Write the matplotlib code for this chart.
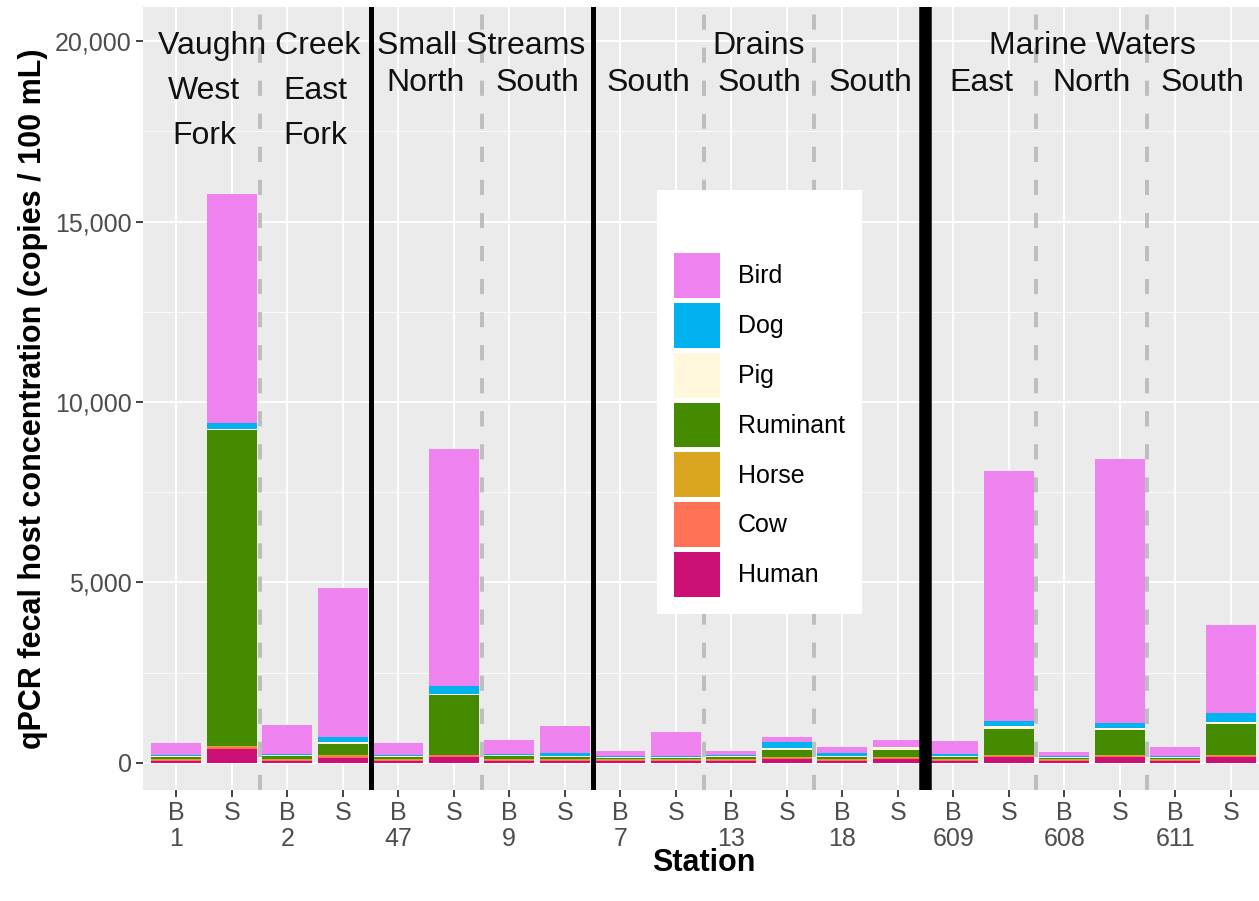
from matplotlib import pyplot as plt
from matplotlib.ticker import FuncFormatter, MultipleLocator
import numpy as np

plt.rcParams['font.family'] = ['Liberation Sans', 'DejaVu Sans']

# stations (B = base flow, S = storm)
stations = ['1', '2', '47', '9', '7', '13', '18', '609', '608', '611']
conditions = ['B', 'S']

# host marker concentrations, one value per bar (B1, S1, B2, S2, ...)
human    = [40, 380, 40, 150, 40, 160, 40, 40, 40, 40, 40, 100, 40, 110, 40, 160, 40, 160, 40, 160]
cow      = [30, 60, 40, 40, 30, 50, 30, 30, 30, 30, 30, 30, 30, 30, 30, 30, 30, 30, 30, 30]
horse    = [40, 40, 40, 30, 40, 20, 40, 40, 30, 30, 30, 30, 30, 30, 40, 30, 30, 30, 30, 30]
ruminant = [60, 8750, 60, 310, 60, 1640, 70, 60, 40, 40, 60, 190, 60, 200, 60, 725, 40, 680, 50, 860]
pig      = [20, 30, 30, 60, 20, 40, 30, 30, 30, 30, 30, 50, 40, 60, 30, 65, 30, 65, 20, 65]
dog      = [30, 150, 50, 130, 30, 230, 40, 70, 30, 25, 30, 175, 70, 10, 40, 165, 30, 140, 30, 250]
bird     = [340, 6350, 780, 4140, 325, 6560, 390, 760, 140, 675, 120, 155, 180, 200, 380, 6910, 100, 7320, 230, 2420]

hosts = ['Human', 'Cow', 'Horse', 'Ruminant', 'Pig', 'Dog', 'Bird']
series = [human, cow, horse, ruminant, pig, dog, bird]
colors = ['#CD1076', '#FF7256', '#DAA520', '#458B00', '#FFF8DC', '#00B2EE', '#EE82EE']

# separators between stations: dashed within a group, solid between groups
dashed_at = [1.5, 5.5, 9.5, 11.5, 15.5, 17.5]
solid_at = [3.5, 7.5]
thick_at = [13.5]

# group labels: (text, x, y)
group_labels = [('Vaughn Creek', 1.5, 19850), ('West', 0.5, 18620), ('Fork', 0.5, 17380),
                ('East', 2.5, 18620), ('Fork', 2.5, 17380),
                ('Small Streams', 5.5, 19850), ('North', 4.5, 18850), ('South', 6.5, 18850),
                ('Drains', 10.5, 19850), ('South', 8.5, 18850), ('South', 10.5, 18850),
                ('South', 12.5, 18850),
                ('Marine Waters', 16.5, 19850), ('East', 14.5, 18850), ('North', 16.5, 18850),
                ('South', 18.5, 18850)]

fig = plt.figure(figsize=(12.59, 9.01), dpi=100)
ax = fig.add_axes([143 / 1259, 111 / 901, 1121 / 1259, 783 / 901])
ax.set_facecolor('#EBEBEB')
for s in ax.spines.values():
    s.set_visible(False)

x = np.arange(len(human))
bottom = np.zeros(len(x))
bars = []
for name, vals, col in zip(hosts, series, colors):
    b = ax.bar(x, vals, width=0.9, bottom=bottom, color=col, label=name, zorder=3)
    bars.append(b)
    bottom += np.array(vals)

ax.set_xlim(-0.6, 19.6)
ax.set_ylim(-750, 20944)

ax.yaxis.set_major_locator(MultipleLocator(5000))
ax.yaxis.set_minor_locator(MultipleLocator(2500))
ax.yaxis.set_major_formatter(FuncFormatter(lambda v, p: f'{int(v):,}'))
ax.grid(which='major', color='white', lw=1.3, zorder=0)
ax.grid(which='minor', axis='y', color='white', lw=0.6, zorder=0)
ax.set_axisbelow(True)

xlabels = []
for st in stations:
    xlabels.append('B\n' + st)
    xlabels.append('S\n')
ax.set_xticks(x)
ax.set_xticklabels(xlabels, linespacing=1.08)
ax.tick_params(axis='both', which='major', labelsize=18, labelcolor='#4D4D4D',
               color='#333333', length=5, width=1.3, pad=3)
ax.tick_params(axis='y', which='minor', length=0)

for xv in dashed_at:
    ax.axvline(xv, color='#BDBDBD', lw=2.8, ls=(0, (3.9, 4.6)), zorder=2)
for xv in solid_at:
    ax.axvline(xv, color='black', lw=3.6, zorder=4)
for xv in thick_at:
    ax.axvline(xv, color='black', lw=9, zorder=4)

for txt, xv, yv in group_labels:
    ax.text(xv, yv, txt, ha='center', va='center', fontsize=23, color='#111111', zorder=5)

ax.set_xlabel('Station', fontsize=22, fontweight='bold')
ax.xaxis.set_label_coords(0.5, -0.0745)
ax.set_ylabel('qPCR fecal host concentration (copies / 100 mL)', fontsize=22,
              fontweight='bold', labelpad=5)

leg = ax.legend(handles=bars[::-1], labels=hosts[::-1], loc='upper left',
                bbox_to_anchor=(0.4585, 0.766), borderaxespad=0, fontsize=18,
                title=' ', title_fontsize=32, handlelength=1.85, handleheight=2.38,
                labelspacing=0.2, handletextpad=0.72, borderpad=0.68,
                frameon=True, fancybox=False, framealpha=1)
leg.get_frame().set_facecolor('white')
leg.get_frame().set_edgecolor('none')
leg.set_zorder(6)

fig.savefig('out.png', dpi=100)
